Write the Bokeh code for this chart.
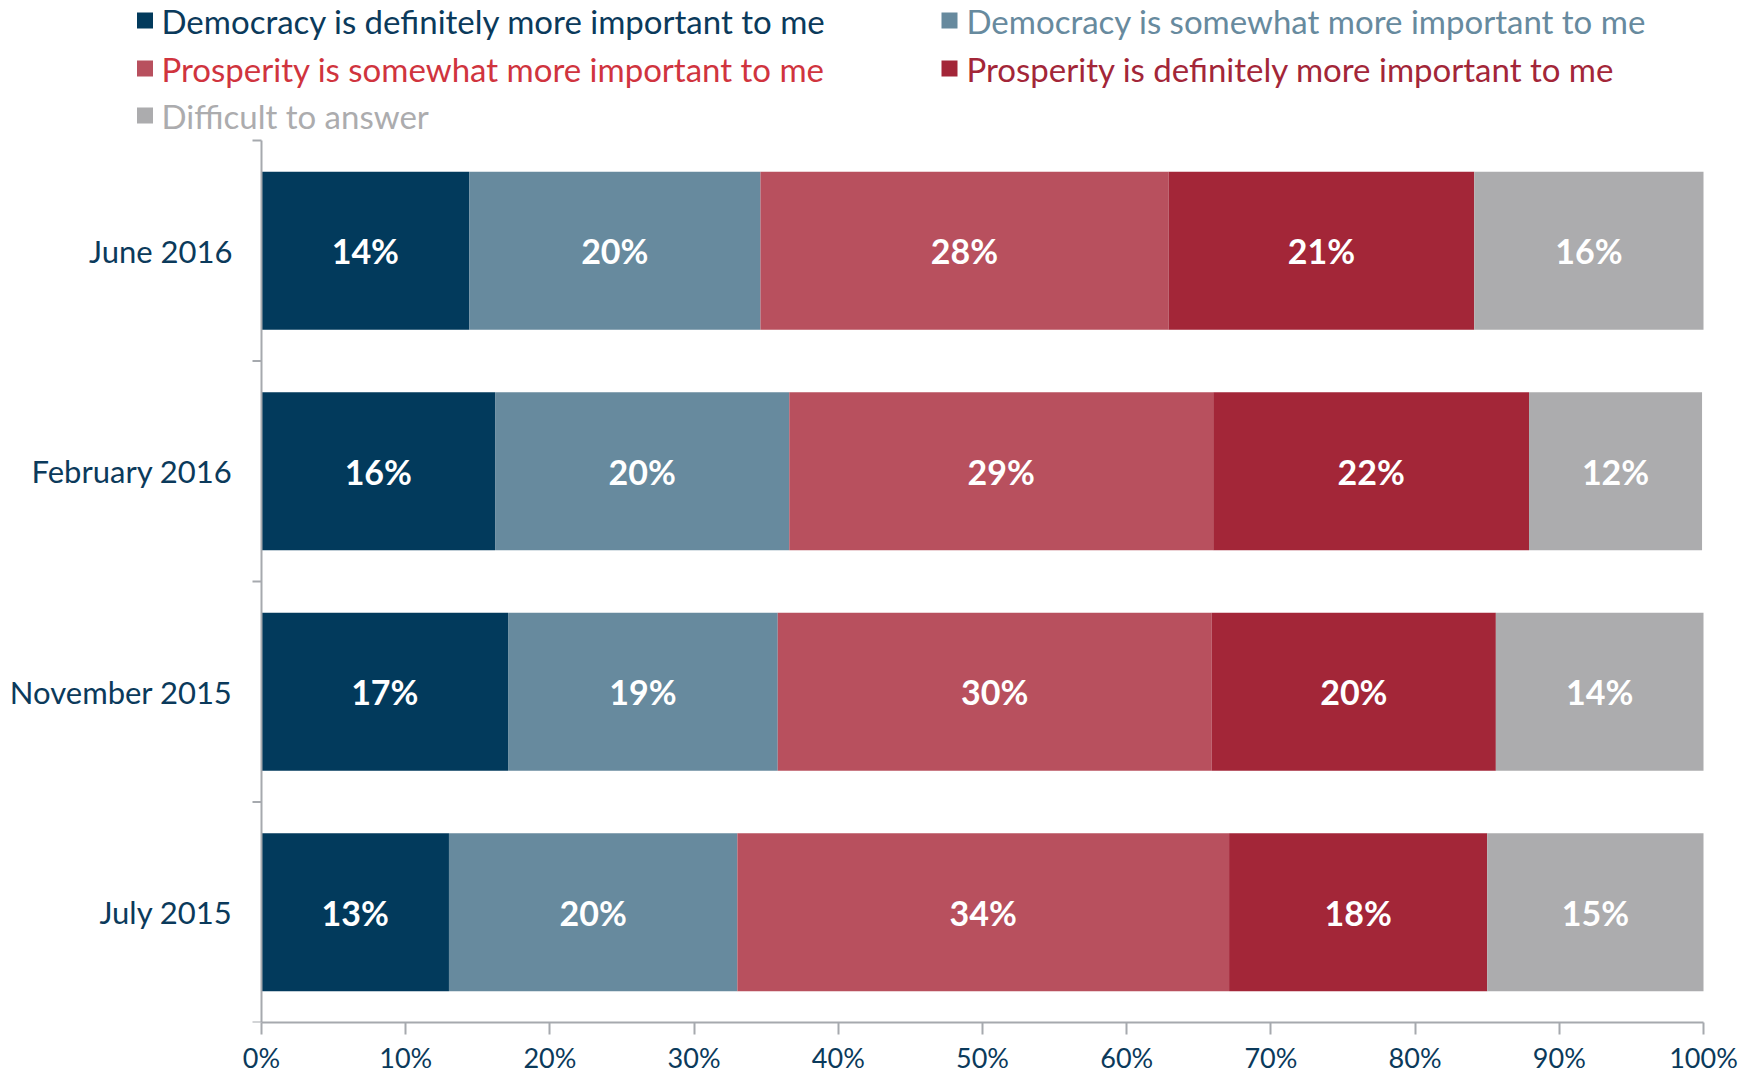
import math
from bokeh.plotting import figure
from bokeh.models import ColumnDataSource, Range1d, FixedTicker
from bokeh.core.properties import value
from bokeh.embed import file_html
from bokeh.resources import INLINE

# ---- data ----
periods = ["June 2016", "February 2016", "November 2015", "July 2015"]
series = [
    "Democracy is definitely more important to me",
    "Democracy is somewhat more important to me",
    "Prosperity is somewhat more important to me",
    "Prosperity is definitely more important to me",
    "Difficult to answer",
]
dem_def = [14.4, 16.2, 17.1, 13.0]
dem_some = [20.2, 20.4, 18.7, 20.0]
pros_some = [28.3, 29.4, 30.1, 34.1]
pros_def = [21.2, 21.9, 19.7, 17.9]
difficult = [15.9, 12.0, 14.4, 15.0]
x_ticks = [0, 10, 20, 30, 40, 50, 60, 70, 80, 90, 100]
x_tick_labels = ["0%", "10%", "20%", "30%", "40%", "50%", "60%", "70%", "80%", "90%", "100%"]

bar_colors = ["#023A5C", "#678A9E", "#B8505E", "#A32638", "#ACACAE"]
legend_text_colors = ["#0B3A5B", "#678A9E", "#D0343E", "#A32638", "#ACACAE"]
axis_text_color = "#0B3A5B"
axis_line_color = "#A6A9AE"
FONT = "Lato"

values_list = [dem_def, dem_some, pros_some, pros_def, difficult]
keys = ["dem_def", "dem_some", "pros_some", "pros_def", "difficult"]
n = len(periods)
ypos = [n - 0.5 - i for i in range(n)]

data = {"y": ypos}
for k, v in zip(keys, values_list):
    data[k] = v
source = ColumnDataSource(data)

# ---- layout (canvas pixels) ----
W, H = 1757, 1078
X0_PX, X100_PX = 261, 1703       # where 0% and 100% fall
YTOP_PX, YBOT_PX = 140, 1022      # top / bottom of the category band area
B_BOTTOM = H - YBOT_PX
kx = (X100_PX - X0_PX) / 100.0
ky = (YBOT_PX - YTOP_PX) / n
x_start = -X0_PX / kx
x_end = 100 + (W - X100_PX) / kx
y_end = n + YTOP_PX / ky


def px_to_x(px):
    return (px - X0_PX) / kx


def py_to_y(py):
    return (YBOT_PX - py) / ky


p = figure(width=W, height=H, x_range=Range1d(x_start, x_end), y_range=Range1d(0, y_end),
           output_backend="svg", toolbar_location=None, y_axis_location=None,
           min_border_left=0, min_border_right=0, min_border_top=0, min_border_bottom=B_BOTTOM)
p.hbar_stack(keys, y="y", height=0.716, color=bar_colors, line_color=None, source=source)

# data labels
lx, ly, lt = [], [], []
for i in range(n):
    cum = 0.0
    for v in values_list:
        val = v[i]
        lx.append(cum + val / 2.0)
        ly.append(ypos[i])
        lt.append(f"{round(val)}%")
        cum += val
p.text(x=lx, y=ly, text=lt, text_color="white", text_font=value(FONT), text_font_style="bold",
       text_font_size="34px", text_align="center", text_baseline="middle")

p.grid.visible = False
p.outline_line_color = None

# x axis
xa = p.xaxis[0]
xa.bounds = (0, 100)
xa.ticker = FixedTicker(ticks=x_ticks)
xa.major_label_overrides = {t: l for t, l in zip(x_ticks, x_tick_labels)}
xa.major_tick_out = 12
xa.major_tick_in = 0
xa.minor_tick_out = 0
xa.minor_tick_in = 0
xa.axis_line_color = axis_line_color
xa.axis_line_width = 2
xa.major_tick_line_color = axis_line_color
xa.major_tick_line_width = 2
xa.major_label_text_font = FONT
xa.major_label_text_font_size = "27px"
xa.major_label_text_color = axis_text_color
xa.major_label_standoff = 6

# y axis (category axis drawn at 0%): line, boundary ticks, category labels
p.segment(x0=[0], y0=[0], x1=[0], y1=[n], line_color=axis_line_color, line_width=2)
p.ray(x=[0] * (n + 1), y=list(range(n + 1)), length=9, length_units="screen", angle=math.pi,
      line_color=axis_line_color, line_width=2)
p.text(x=[0] * n, y=ypos, text=periods, x_offset=-29, text_color=axis_text_color,
       text_font=value(FONT), text_font_size="31px", text_align="right", text_baseline="middle")

# ---- legend (each entry has its own text colour) ----
leg_row_py = [20, 20, 68, 68, 115]
leg_sw_px = [144.5, 949, 144.5, 949, 144.5]
leg_tx_px = [161, 966, 161, 966, 161]
leg_src = ColumnDataSource(dict(
    sx=[px_to_x(v) for v in leg_sw_px],
    tx=[px_to_x(v) for v in leg_tx_px],
    y=[py_to_y(v) for v in leg_row_py],
    label=series, sc=bar_colors, tc=legend_text_colors))
p.rect(x="sx", y="y", width=16, height=16, width_units="screen", height_units="screen",
       fill_color="sc", line_color=None, source=leg_src)
p.text(x="tx", y="y", text="label", text_color="tc", text_font=value(FONT),
       text_font_size="33px", text_baseline="middle", text_align="left", source=leg_src)

open("out.html", "w").write(file_html(p, INLINE))
